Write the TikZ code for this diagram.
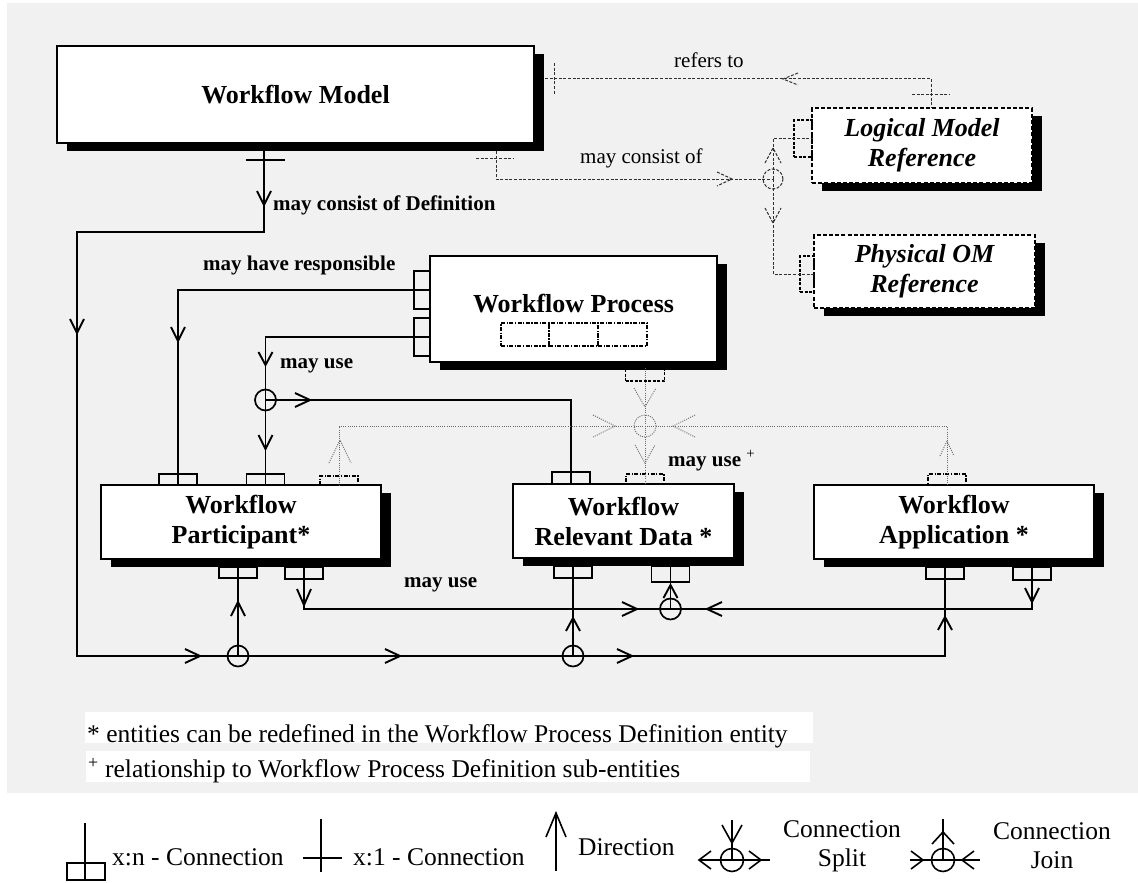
\documentclass[tikz,border=0pt]{standalone}
\usepackage{fontspec}
\setmainfont{Liberation Serif}
\usetikzlibrary{shadows}
\definecolor{bgc}{HTML}{F1F1F1}
\definecolor{dotc}{HTML}{6A6A6A}
\definecolor{dshc}{HTML}{303030}
\tikzset{
 conn/.style={line width=1.9pt, line cap=butt, line join=miter},
 dsh/.style={line width=1pt, color=dshc, dash pattern=on 3pt off 1.6pt},
 dtt/.style={line width=0.9pt, color=dotc, dash pattern=on 1pt off 1.2pt},
 ent/.style={draw, line width=1.4pt, fill=white, inner sep=0pt, align=center,
   font=\fontsize{26}{30}\selectfont\bfseries,
   drop shadow={shadow xshift=10pt, shadow yshift=-8pt, opacity=1, fill=black}},
 dent/.style={ent, dash pattern=on 4pt off 2.2pt, line width=1.6pt,
   font=\fontsize{26}{30}\selectfont\bfseries\itshape},
 port/.style={draw, line width=1.4pt, inner sep=0pt, minimum width=38pt},
 dport/.style={port, line width=1.3pt, dash pattern=on 3pt off 1.5pt},
 ddport/.style={port, line width=1.3pt, dash pattern=on 4pt off 1.5pt on 1.2pt off 1.5pt},
 junc/.style={circle, draw, line width=1.7pt, inner sep=0pt, minimum size=21pt},
 lbl/.style={font=\fontsize{21}{24}\selectfont\bfseries, inner sep=0pt, anchor=base west},
 lblr/.style={font=\fontsize{21}{24}\selectfont, inner sep=0pt, anchor=base west},
 lgd/.style={font=\fontsize{25.5}{29}\selectfont, inner sep=0pt},
 lgl/.style={line width=1.6pt},
 fnote/.style={fill=white, inner xsep=2pt, inner ysep=0pt, anchor=north west,
   font=\fontsize{25.5}{30}\selectfont},
 pics/arrD/.style args={#1/#2}{code={\draw[pic actions] (-#2,-#1) -- (0,0) -- (#2,-#1);}},
 pics/arrU/.style args={#1/#2}{code={\draw[pic actions] (-#2,#1) -- (0,0) -- (#2,#1);}},
 pics/arrR/.style args={#1/#2}{code={\draw[pic actions] (-#1,-#2) -- (0,0) -- (-#1,#2);}},
 pics/arrL/.style args={#1/#2}{code={\draw[pic actions] (#1,-#2) -- (0,0) -- (#1,#2);}},
}
\begin{document}
\begin{tikzpicture}[x=1pt,y=-1pt]
\fill[white] (0,0) rectangle (1138,883);
\fill[bgc] (7,3) rectangle (1138,793);
\useasboundingbox (0,0) rectangle (1138,883);

% entities
\node[ent, minimum width=477pt, minimum height=97pt] (wm) at (295.5,94.5) {Workflow Model};
\node[ent, minimum width=287pt, minimum height=106pt, text height=17pt, text depth=10pt] (wp) at (573.5,309) {Workflow Process};
\node[dent, minimum width=220pt, minimum height=75pt] (lmr) at (922,145.5) {Logical Model\\Reference};
\node[dent, minimum width=221pt, minimum height=73pt] (pom) at (924.5,271.5) {Physical OM\\Reference};
\node[ent, minimum width=280pt, minimum height=74pt] (wpart) at (241,522) {Workflow\\Participant*};
\node[ent, minimum width=221pt, minimum height=74pt] (wrd) at (623.5,521) {Workflow\\Relevant Data *};
\node[ent, minimum width=280pt, minimum height=74pt] (wapp) at (954,522) {Workflow\\Application *};

% sub-entities of Workflow Process
\node[ddport, minimum width=48pt, minimum height=23pt] (sb1) at (525,334.5) {};
\node[ddport, minimum width=49pt, minimum height=23pt] (sb2) at (573.5,334.5) {};
\node[ddport, minimum width=49pt, minimum height=23pt] (sb3) at (622.5,334.5) {};

% ports
\node[port, minimum width=16pt, minimum height=38pt] (w1) at (422,290) {};
\node[port, minimum width=16pt, minimum height=38pt] (w2) at (422,337) {};
\node[dport, minimum width=39pt, minimum height=12pt] (w3) at (645,375) {};
\node[dport, minimum width=18pt, minimum height=37pt] (l1) at (803,138.5) {};
\node[dport, minimum width=14pt, minimum height=36pt] (o1) at (807,274) {};
\node[port, minimum height=11pt] (p1) at (178,479.5) {};
\node[port, minimum height=11pt] (p2) at (265.5,479.5) {};
\node[ddport, minimum height=9pt] (p3) at (339,480.5) {};
\node[port, minimum height=12pt] (r1) at (571,478) {};
\node[ddport, minimum height=10pt] (r2) at (645,479) {};
\node[ddport, minimum height=11pt] (a1) at (947,479.5) {};
\node[port, minimum height=11pt] (p4) at (238,572.5) {};
\node[port, minimum height=12pt] (p5) at (304,573) {};
\node[port, minimum height=12pt] (r3) at (573,572) {};
\node[port, minimum height=16pt] (r4) at (670.5,574) {};
\node[port, minimum height=12pt] (a2) at (945,573) {};
\node[port, minimum height=13pt] (a3) at (1032,573.5) {};

% junctions
\node[junc] (c1) at (238,656) {};
\node[junc] (c2) at (573,656) {};
\node[junc] (c3) at (265.5,400) {};
\node[junc] (c4) at (670.5,609) {};
\node[junc, dtt, minimum size=22pt] (c5) at (645,426) {};
\node[junc, dsh, minimum size=20pt] (c6) at (773,179) {};

% helper coordinates
\coordinate (wmb) at (264,143);
\coordinate (k1) at (77,232);
\coordinate (k2) at (77,656);
\coordinate (k3) at (1032,609);
\coordinate (k4) at (947,426);
\coordinate (wmr) at (545,79);
\coordinate (lmt) at (931,108);
\coordinate (wmb2) at (496,151);

% solid connectors
\draw[conn] (wmb) |- (k1) -- (k2) -| (a2.north);
\draw[conn] (c1.center) -- (p4.north);
\draw[conn] (c2.center) -- (r3.north);
\draw[conn] (246,160) -- (285,160);
\draw[conn] (w1.east) -| (p1.south);
\draw[conn] (w2.east) -| (p2.south);
\draw[conn] (c3.center) -| (r1.south);
\draw[conn] (p5.north) |- (k3) -- (a3.north);
\draw[conn] (c4.center) -- (r4.north);
% dotted connectors
\draw[dtt] (w3.north) -- (r2.south);
\draw[dtt] (p3.south) |- (k4) -- (a1.south);
% dashed connectors
\draw[dsh] (wmr) -| (lmt);
\draw[dsh] (554,63) -- (554,95);
\draw[dsh] (912,94) -- (949,94);
\draw[dsh] (wmb2) |- (c6.center);
\draw[dsh] (c6.center) |- (l1.east);
\draw[dsh] (c6.center) |- (o1.east);
\draw[dsh] (476,158) -- (513,158);

% arrowheads
\pic[conn] at (264,205) {arrD=14/7};
\pic[conn] at (77,333) {arrD=14/7};
\pic[conn] at (200,656) {arrR=15/7};
\pic[conn] at (400,656) {arrR=15/7};
\pic[conn] at (632,656) {arrR=15/7};
\pic[conn] at (238,602) {arrU=14/7};
\pic[conn] at (573,618) {arrU=13/7};
\pic[conn] at (945,617) {arrU=13/7};
\pic[conn] at (178,341) {arrD=14/7};
\pic[conn] at (265.5,365) {arrD=13/7};
\pic[conn] at (265.5,449) {arrD=14/7};
\pic[conn] at (310,400) {arrR=15/7};
\pic[conn] at (304,605) {arrD=16/7};
\pic[conn] at (637,609) {arrR=15/7};
\pic[conn] at (707,609) {arrL=15/7};
\pic[conn] at (1032,602) {arrD=14/7};
\pic[conn] at (670.5,585) {arrU=13/7};
\pic[dtt] at (645,407) {arrD=19/11};
\pic[dtt] at (645,463) {arrD=18/10};
\pic[dtt] at (615,426) {arrR=22/11};
\pic[dtt] at (673,426) {arrL=22/11};
\pic[dtt] at (340,440) {arrU=23/11};
\pic[dtt] at (947,441) {arrU=15/7};
\pic[dsh] at (783,79) {arrL=15/6};
\pic[dsh] at (732,179) {arrR=15/7};
\pic[dsh] at (773,148) {arrU=15/8};
\pic[dsh] at (773,223) {arrD=15/8};

% labels
\node[lbl] (lb1) at (273,210) {may consist of Definition};
\node[lbl] (lb2) at (203,270) {may have responsible};
\node[lbl] (lb3) at (280,368) {may use};
\node[lbl] (lb4) at (668,466) {may use \textsuperscript{\mdseries +}};
\node[lbl] (lb5) at (404,587) {may use};
\node[lblr] (lb6) at (674,67) {refers to};
\node[lblr] (lb7) at (580,163) {may consist of};

% footnotes
\node[fnote, text height=30pt, text depth=1pt] (fn1) at (85,712) {\makebox[724pt][l]{* entities can be redefined in the Workflow Process Definition entity}};
\node[fnote, text height=26pt, text depth=5pt] (fn2) at (86,751) {\makebox[720pt][l]{\textsuperscript{+} relationship to Workflow Process Definition sub-entities}};

% legend
\draw[lgl] (85,823) -- (85,880);
\draw[lgl] (67,863) rectangle (105,880);
\node[lgd, anchor=base west] (lg1) at (112,865) {x:n - Connection};
\draw[lgl] (321,819) -- (321,872) (303,858) -- (342,858);
\node[lgd, anchor=base west] (lg2) at (353,865) {x:1 - Connection};
\draw[lgl] (556,813) -- (556,871);
\pic[lgl] at (556,813) {arrU=24/10};
\node[lgd, anchor=base west] (lg3) at (578,855) {Direction};
\node[junc, lgl, minimum size=23pt] (ls) at (732,860) {};
\draw[lgl] (732,820) -- (ls.center) (699,860) -- (770,860);
\pic[lgl] at (732,843) {arrD=18/10};
\pic[lgl] at (699,860) {arrL=12/9};
\pic[lgl] at (761,860) {arrR=12/9};
\node[lgd, align=center] (lg4) at (842,846) {Connection\\Split};
\node[junc, lgl, minimum size=23pt] (lj) at (943,860) {};
\draw[lgl] (943,819) -- (lj.center) (910,860) -- (980,860);
\pic[lgl] at (943,832) {arrU=12/11};
\pic[lgl] at (923,860) {arrR=12/9};
\pic[lgl] at (962,860) {arrL=12/9};
\node[lgd, align=center] (lg5) at (1052,846) {Connection\\Join};
\end{tikzpicture}
\end{document}
